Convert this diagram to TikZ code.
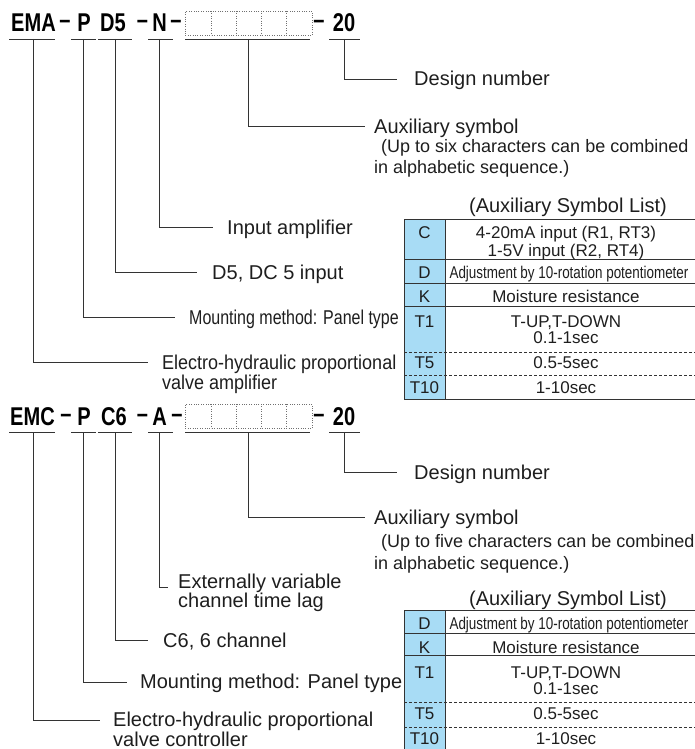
\documentclass[tikz,border=0pt]{standalone}
\usepackage{fontspec}
\setmainfont{Liberation Sans}
\newfontfamily\codefont[FakeStretch=0.78]{Liberation Sans Bold}
\definecolor{txt}{HTML}{1E1E1E}
\definecolor{ln}{HTML}{333333}
\definecolor{colblue}{HTML}{A8DCF5}
\begin{document}
\begin{tikzpicture}[x=1pt,y=-1pt,
  lead/.style={draw=ln, line width=0.9pt},
  uline/.style={draw=ln, line width=0.9pt},
  lbl/.style={anchor=base west, inner sep=0pt, font=\fontsize{20}{20}\selectfont, text=txt},
  sublbl/.style={anchor=base west, inner sep=0pt, font=\fontsize{18}{18}\selectfont, text=txt},
  code/.style={anchor=base, inner sep=0pt, font=\codefont\fontsize{25.7}{26}\selectfont, text=black},
  dashsym/.style={anchor=base, inner sep=0pt, font=\codefont\fontsize{25.7}{26}\selectfont, text=black},
  tcell/.style={anchor=base, inner sep=0pt, font=\fontsize{17}{17}\selectfont, text=txt},
  ttitle/.style={anchor=base, inner sep=0pt, font=\fontsize{20}{20}\selectfont, text=txt},
  boxdot/.style={draw=ln!70, line width=0.8pt, dash pattern=on 1pt off 1.4pt},
  solidrule/.style={draw=ln, line width=0.9pt},
  dashrule/.style={draw=ln, line width=0.8pt, dash pattern=on 3pt off 2pt}]
\useasboundingbox (0,0) rectangle (695,749);

% ================= Block 1 =================
\node[code] (ema) at (33.5,32) {EMA};
\node[dashsym] (da1) at (65,32) {\raisebox{3pt}{–}};
\node[code] (p1) at (84,32) {P};
\node[code] (d5) at (113,32) {D5};
\node[dashsym] (da2) at (142.5,32) {\raisebox{3pt}{–}};
\node[code] (n1) at (159.5,32) {N};
\node[dashsym] (da3) at (176,32) {\raisebox{3pt}{–}};
\node[boxdot, anchor=north west, minimum width=127pt, minimum height=24pt, inner sep=0pt] (bx1) at (185,11) {};
\foreach \xx in {211,236,261,286} \draw[boxdot] (\xx,11) -- (\xx,35);
\node[dashsym] (da4) at (319,32) {\raisebox{3pt}{–}};
\node[code] (tw1) at (344,32) {20};

\foreach \a/\b in {9/55,71/96,98/132,148/173,185/310,329/360} \draw[uline] (\a,39) -- (\b,39);

\coordinate (s20a) at (344,39);  \coordinate (e20a) at (397,79);
\coordinate (sbxa) at (248,39);  \coordinate (ebxa) at (365,126);
\coordinate (sna)  at (159,39);  \coordinate (ena)  at (213,227);
\coordinate (sd5)  at (115,39);  \coordinate (ed5)  at (197,272);
\coordinate (spa)  at (83,39);   \coordinate (epa)  at (175,317);
\coordinate (sema) at (33,39);   \coordinate (eema) at (148,362);
\draw[lead] (s20a) |- (e20a);
\draw[lead] (sbxa) |- (ebxa);
\draw[lead] (sna) |- (ena);
\draw[lead] (sd5) |- (ed5);
\draw[lead] (spa) |- (epa);
\draw[lead] (sema) |- (eema);

\node[lbl] (ldn1) at (414,86) {Design number};
\node[lbl] (lax1) at (374,133) {Auxiliary symbol};
\node[sublbl] (lsa1) at (381,152) {(Up to six characters can be combined};
\node[sublbl] (lsb1) at (374,173) {in alphabetic sequence.)};
\node[lbl] (lin1) at (227,234) {Input amplifier};
\node[lbl] (ld51) at (212,279) {D5, DC 5 input};
\node[lbl] (lmt1) at (189,324) {\scalebox{0.8}[1]{Mounting method: Panel type}};
\node[lbl] (lel1) at (162,369) {\scalebox{0.9}[1]{Electro-hydraulic proportional}};
\node[lbl] (lel1b) at (162,389) {\scalebox{0.9}[1]{valve amplifier}};

% Table 1
\node[ttitle] (tt1) at (568,212) {(Auxiliary Symbol List)};
\fill[colblue] (404,219) rectangle (445,399);
\foreach \yy in {219,259,283,306.5,399} \draw[solidrule] (404,\yy) -- (695,\yy);
\foreach \yy in {352,375} \draw[dashrule] (404,\yy) -- (695,\yy);
\draw[solidrule] (404,219) -- (404,399);
\draw[solidrule] (445,219) -- (445,399);
\node[tcell] (ka) at (424.5,238) {C};
\node[tcell] (kb) at (424.5,278) {D};
\node[tcell] (kc) at (424.5,302) {K};
\node[tcell] (kd) at (424.5,327) {T1};
\node[tcell] (ke) at (424.5,368) {T5};
\node[tcell] (kf) at (424.5,393) {T10};
\node[tcell] (va1) at (566,238) {4-20mA input (R1, RT3)};
\node[tcell] (va2) at (566,256) {1-5V input (R2, RT4)};
\node[tcell] (vb) at (569,278) {\scalebox{0.79}[1]{Adjustment by 10-rotation potentiometer}};
\node[tcell] (vc) at (566,302) {Moisture resistance};
\node[tcell] (vd1) at (566,327) {T-UP,T-DOWN};
\node[tcell] (vd2) at (566,343) {0.1-1sec};
\node[tcell] (ve) at (566,368) {0.5-5sec};
\node[tcell] (vf) at (566,393) {1-10sec};

% ================= Block 2 =================
\node[code] (emc) at (32.5,425) {EMC};
\node[dashsym] (db1) at (66,425) {\raisebox{3pt}{–}};
\node[code] (p2) at (84,425) {P};
\node[code] (c6) at (114,425) {C6};
\node[dashsym] (db2) at (142.5,425) {\raisebox{3pt}{–}};
\node[code] (a2) at (159.5,425) {A};
\node[dashsym] (db3) at (177,425) {\raisebox{3pt}{–}};
\node[boxdot, anchor=north west, minimum width=127pt, minimum height=24pt, inner sep=0pt] (bx2) at (185,404) {};
\foreach \xx in {211,236,261,286} \draw[boxdot] (\xx,404) -- (\xx,428);
\node[dashsym] (db4) at (319,425) {\raisebox{3pt}{–}};
\node[code] (tw2) at (344,425) {20};

\foreach \a/\b in {9/55,71/96,98/132,148/173,185/310,329/360} \draw[uline] (\a,432) -- (\b,432);

\coordinate (s20b) at (344,432);  \coordinate (e20b) at (397,472);
\coordinate (sbxb) at (248,432);  \coordinate (ebxb) at (365,517);
\coordinate (sab)  at (159,432);  \coordinate (eab)  at (168,587);
\coordinate (sc6)  at (115,432);  \coordinate (ec6)  at (148,640);
\coordinate (spb)  at (83,432);   \coordinate (epb)  at (127,682);
\coordinate (semc) at (33,432);   \coordinate (eemc) at (100,720);
\draw[lead] (s20b) |- (e20b);
\draw[lead] (sbxb) |- (ebxb);
\draw[lead] (sab) |- (eab);
\draw[lead] (sc6) |- (ec6);
\draw[lead] (spb) |- (epb);
\draw[lead] (semc) |- (eemc);

\node[lbl] (ldn2) at (414,479) {Design number};
\node[lbl] (lax2) at (374,524) {Auxiliary symbol};
\node[sublbl] (lsa2) at (381,547) {(Up to five characters can be combined};
\node[sublbl] (lsb2) at (374,569) {in alphabetic sequence.)};
\node[lbl] (lex2) at (178,588) {Externally variable};
\node[lbl] (lex2b) at (178,607) {channel time lag};
\node[lbl] (lc62) at (163,647) {C6, 6 channel};
\node[lbl] (lmt2) at (140,688) {Mounting method: Panel type};
\node[lbl] (lel2) at (113,726) {Electro-hydraulic proportional};
\node[lbl] (lel2b) at (113,746) {valve controller};

% Table 2
\node[ttitle] (tt2) at (568,605) {(Auxiliary Symbol List)};
\fill[colblue] (404,610) rectangle (445,749);
\foreach \yy in {610,633.5,655.5} \draw[solidrule] (404,\yy) -- (695,\yy);
\foreach \yy in {702,727} \draw[dashrule] (404,\yy) -- (695,\yy);
\draw[solidrule] (404,610) -- (404,749);
\draw[solidrule] (445,610) -- (445,749);
\node[tcell] (kb2) at (424.5,629) {D};
\node[tcell] (kc2) at (424.5,653) {K};
\node[tcell] (kd2) at (424.5,678) {T1};
\node[tcell] (ke2) at (424.5,719) {T5};
\node[tcell] (kf2) at (424.5,744) {T10};
\node[tcell] (vb2) at (569,629) {\scalebox{0.79}[1]{Adjustment by 10-rotation potentiometer}};
\node[tcell] (vc2) at (566,653) {Moisture resistance};
\node[tcell] (vd12) at (566,678) {T-UP,T-DOWN};
\node[tcell] (vd22) at (566,694) {0.1-1sec};
\node[tcell] (ve2) at (566,719) {0.5-5sec};
\node[tcell] (vf2) at (566,744) {1-10sec};
\end{tikzpicture}
\end{document}
